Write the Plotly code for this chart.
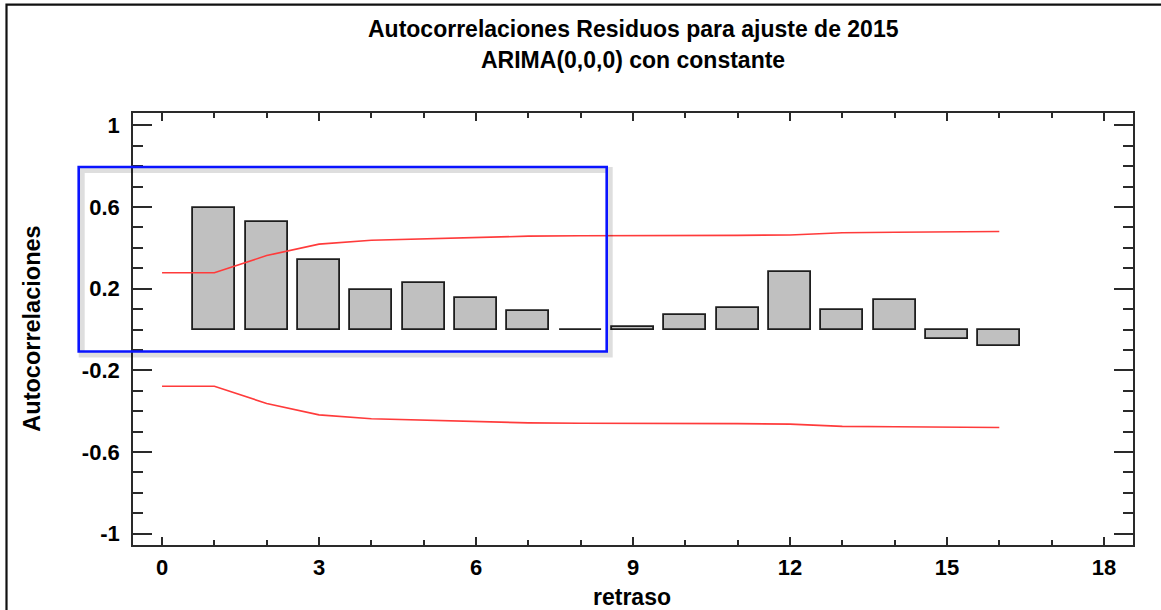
import plotly.graph_objects as go

# ---- data ----
lags = list(range(1, 17))
acf = [0.596, 0.525, 0.341, 0.192, 0.226, 0.155, 0.089, -0.003,
       0.012, 0.069, 0.105, 0.280, 0.097, 0.143, -0.046, -0.082]
limit_lags = list(range(0, 17))
upper_limit = [0.278, 0.278, 0.362, 0.418, 0.437, 0.444, 0.453, 0.457, 0.459,
               0.459, 0.460, 0.461, 0.463, 0.474, 0.476, 0.479, 0.480]
lower_limit = [-v for v in upper_limit]

x_tickvals = [0, 3, 6, 9, 12, 15, 18]
x_ticktext = ["0", "3", "6", "9", "12", "15", "18"]
y_tickvals = [-1, -0.6, -0.2, 0.2, 0.6, 1]
y_ticktext = ["-1", "-0.6", "-0.2", "0.2", "0.6", "1"]

title1 = "Autocorrelaciones Residuos para ajuste de 2015"
title2 = "ARIMA(0,0,0) con constante"
x_title = "retraso"
y_title = "Autocorrelaciones"

FONT = "Liberation Sans, Arial, sans-serif"
AX = "#2a2a2a"

fig = go.Figure()
fig.add_trace(go.Bar(x=lags, y=acf, width=0.8,
                     marker=dict(color="#c0c0c0", line=dict(color="#1e1e1e", width=1.8)),
                     showlegend=False))
fig.add_trace(go.Scatter(x=limit_lags, y=upper_limit, mode="lines",
                         line=dict(color="#ff3b3b", width=1.6), showlegend=False))
fig.add_trace(go.Scatter(x=limit_lags, y=lower_limit, mode="lines",
                         line=dict(color="#ff3b3b", width=1.6), showlegend=False))

fig.update_layout(
    width=1161, height=610,
    margin=dict(l=133, r=28, t=113, b=65, pad=0),
    paper_bgcolor="white", plot_bgcolor="white",
    font=dict(family=FONT, color="black"),
    bargap=0,
)

fig.update_xaxes(
    range=[-0.555, 18.555], showgrid=False, zeroline=False,
    showline=True, linecolor=AX, linewidth=1.7, mirror="allticks",
    ticks="inside", ticklen=8, tickwidth=1.5, tickcolor=AX,
    tickvals=x_tickvals, ticktext=x_ticktext,
    tickfont=dict(family=FONT, size=22, weight="bold", color="black"),
    ticklabelstandoff=2,
    minor=dict(dtick=1, tick0=0, ticks="inside", ticklen=5, tickwidth=1.5, tickcolor=AX, showgrid=False),
)
fig.update_yaxes(
    range=[-1.055, 1.06], showgrid=False, zeroline=False,
    showline=True, linecolor=AX, linewidth=1.7, mirror="allticks",
    ticks="inside", ticklen=19, tickwidth=1.5, tickcolor=AX,
    tickvals=y_tickvals, ticktext=y_ticktext,
    tickfont=dict(family=FONT, size=22, weight="bold", color="black"),
    ticklabelstandoff=7,
    minor=dict(dtick=0.1, tick0=-1, ticks="inside", ticklen=10, tickwidth=1.5, tickcolor=AX, showgrid=False),
)

# outer frame (left and top edges visible)
fig.add_shape(type="rect", xref="paper", yref="paper",
              x0=-0.1265, x1=1.06, y0=-0.3, y1=1.2509,
              line=dict(color="#111111", width=2.2), layer="above")
# highlight box with soft shadow
fig.add_shape(type="rect", xref="paper", yref="paper",
              x0=-0.0513, x1=0.4767, y0=0.4408, y1=0.8679,
              line=dict(color="rgba(0,0,0,0.13)", width=6), layer="above")
fig.add_shape(type="rect", xref="paper", yref="paper",
              x0=-0.0543, x1=0.4737, y0=0.4478, y1=0.8749,
              line=dict(color="#0a14ff", width=2.6), layer="above")

ann_font = dict(family=FONT, size=23, weight="bold", color="black")
fig.add_annotation(text=title1, xref="paper", yref="paper", x=0.5, y=1.1953,
                   showarrow=False, font=ann_font, xanchor="center", yanchor="middle")
fig.add_annotation(text=title2, xref="paper", yref="paper", x=0.5, y=1.1235,
                   showarrow=False, font=ann_font, xanchor="center", yanchor="middle")
fig.add_annotation(text=x_title, xref="paper", yref="paper", x=0.499, y=-0.1205,
                   showarrow=False, font=dict(family=FONT, size=23, weight="bold", color="black"),
                   xanchor="center", yanchor="middle")
fig.add_annotation(text=y_title, xref="paper", yref="paper", x=-0.1013, y=0.5,
                   showarrow=False, textangle=-90,
                   font=dict(family=FONT, size=23.5, weight="bold", color="black"),
                   xanchor="center", yanchor="middle")

fig.write_html("out.html",
               config={"displayModeBar": False},
               post_script="document.body.style.margin='0px';document.body.style.overflow='hidden';")
